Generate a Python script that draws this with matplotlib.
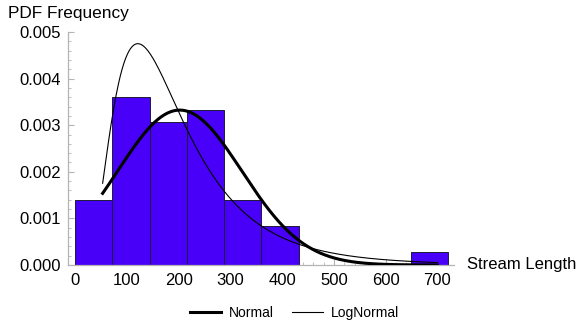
import numpy as np
import matplotlib.pyplot as plt
from matplotlib.ticker import MultipleLocator, FormatStrFormatter

plt.rcParams['font.family'] = ['Liberation Sans', 'DejaVu Sans']

# histogram of stream lengths (PDF-normalised), bin width 72
bin_edges = [0, 72, 144, 216, 288, 360, 432, 504, 576, 648, 720]
pdf_heights = [0.00139, 0.00361, 0.00306, 0.00333, 0.00139, 0.00083,
               0.0, 0.0, 0.0, 0.00028]

# fitted distributions
length_min, length_max = 53.0, 700.0
norm_mean, norm_sd = 202.0, 120.0
logn_mu, logn_sigma = 5.138, 0.585

x = np.linspace(length_min, length_max, 400)
norm_pdf = np.exp(-0.5 * ((x - norm_mean) / norm_sd) ** 2) / (norm_sd * np.sqrt(2 * np.pi))
logn_pdf = np.exp(-0.5 * ((np.log(x) - logn_mu) / logn_sigma) ** 2) / (x * logn_sigma * np.sqrt(2 * np.pi))

fig = plt.figure(figsize=(5.8, 3.25), dpi=100)
ax = fig.add_axes([0.1172, 0.1846, 0.6655, 0.7169])

widths = np.diff(bin_edges)
ax.bar(bin_edges[:-1], pdf_heights, width=widths, align='edge',
       color='#4800f8', edgecolor='#1c1c3a', linewidth=0.7, zorder=2)
ln1, = ax.plot(x, norm_pdf, color='black', lw=2.2, zorder=3, label='Normal')
ln2, = ax.plot(x, logn_pdf, color='black', lw=0.8, zorder=3, label='LogNormal')

ax.set_xlim(-14, 732)
ax.set_ylim(0, 0.005)
ax.xaxis.set_major_locator(MultipleLocator(100))
ax.xaxis.set_minor_locator(MultipleLocator(20))
ax.yaxis.set_major_locator(MultipleLocator(0.001))
ax.yaxis.set_minor_locator(MultipleLocator(0.0002))
ax.yaxis.set_major_formatter(FormatStrFormatter('%.3f'))

for s in ['top', 'right']:
    ax.spines[s].set_visible(False)
for s in ['left', 'bottom']:
    ax.spines[s].set_color('#b4b4b4')
    ax.spines[s].set_linewidth(0.9)
ax.tick_params(which='both', direction='in', color='#b4b4b4', labelsize=12,
               labelcolor='black')
ax.tick_params(which='major', length=4, width=0.8)
ax.tick_params(which='minor', length=2.2, width=0.6)
ax.tick_params(axis='x', pad=6)
ax.tick_params(axis='y', pad=5)

fig.text(0.013, 0.958, 'PDF Frequency', fontsize=12.4, va='center', ha='left')
fig.text(0.805, 0.185, 'Stream Length', fontsize=12, va='center', ha='left')

fig.legend(handles=[ln1, ln2], loc='center', bbox_to_anchor=(0.508, 0.037),
           ncol=2, frameon=False, fontsize=10, handlelength=2.2,
           handletextpad=0.6, columnspacing=1.3)

fig.savefig('out.png', dpi=100)
